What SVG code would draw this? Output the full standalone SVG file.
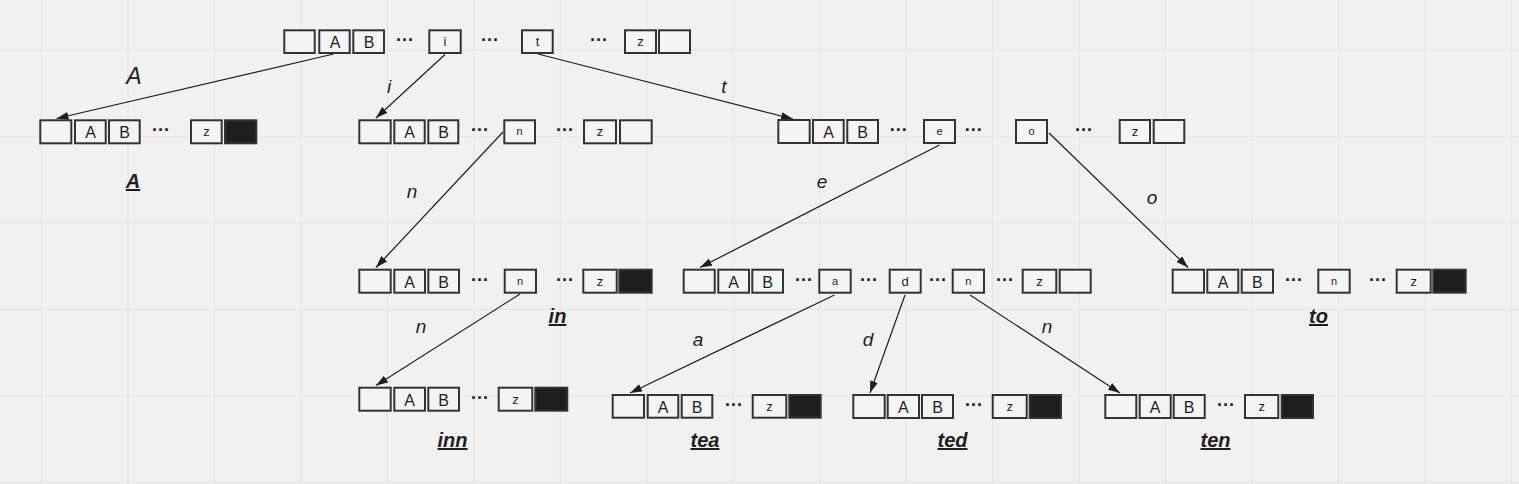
<svg xmlns="http://www.w3.org/2000/svg" width="1519" height="484" viewBox="0 0 1519 484">
<defs>
<style>
.c{fill:#f4f4f4;stroke:#333;stroke-width:2}
.k{fill:#1e1e1e;stroke:#333;stroke-width:2}
.t{font-family:"Liberation Sans",Arial,sans-serif;fill:#1e1e1e;text-anchor:middle}
.L{font-size:16px}
.s{font-size:13px}
.x{font-size:11px}
.d{font-family:"Liberation Sans",Arial,sans-serif;fill:#1e1e1e;text-anchor:middle;font-size:18px;font-weight:bold}
.e{font-family:"Liberation Sans",Arial,sans-serif;fill:#1e1e1e;text-anchor:middle;font-size:19px;font-style:italic}
.w{font-family:"Liberation Sans",Arial,sans-serif;fill:#1e1e1e;text-anchor:middle;font-size:20px;font-weight:bold;font-style:italic;text-decoration:underline}
.g{stroke:#e3e3e3;stroke-width:1}
.a{stroke:#1e1e1e;stroke-width:1.2;fill:none;marker-end:url(#ah)}
</style>
<marker id="ah" markerUnits="userSpaceOnUse" markerWidth="14" markerHeight="10" refX="12" refY="4" orient="auto">
<path d="M0,0 L12,4 L0,8 z" fill="#1e1e1e"/>
</marker>
</defs>
<rect width="1519" height="484" fill="#f1f1f1"/>
<g id="grid">
<path class="g" d="M41.5,0V484M128,0V484M214.4,0V484M300.9,0V484M387.4,0V484M473.9,0V484M560.3,0V484M646.8,0V484M733.3,0V484M819.7,0V484M906.2,0V484M992.7,0V484M1079.1,0V484M1165.6,0V484M1252.1,0V484M1338.6,0V484M1425,0V484M1511.5,0V484M0,50H1519M0,136.5H1519M0,223H1519M0,309.4H1519M0,395.9H1519M0,482.3H1519"/>
</g>
<g id="connectors">
<path class="a" d="M333.5,54 L56.5,118.5"/>
<path class="a" d="M445,54.5 L376,118"/>
<path class="a" d="M538,54 L793,119"/>
<path class="a" d="M503,132 L376,267.5"/>
<path class="a" d="M939.5,145 L700,267.5"/>
<path class="a" d="M1049,133 L1188,267.5"/>
<path class="a" d="M520,294 L376,385.5"/>
<path class="a" d="M834.5,295 L630,393"/>
<path class="a" d="M905,295 L870,393"/>
<path class="a" d="M970,295 L1120,393"/>
<text class="e" x="134" y="84" style="font-size:23px">A</text>
<text class="e" x="389" y="93">i</text>
<text class="e" x="724" y="93">t</text>
<text class="e" x="412" y="198">n</text>
<text class="e" x="822" y="188">e</text>
<text class="e" x="1152" y="204">o</text>
<text class="e" x="421" y="333">n</text>
<text class="e" x="698" y="346">a</text>
<text class="e" x="868" y="346">d</text>
<text class="e" x="1047" y="333">n</text>
</g>
<g id="root">
<rect class="c" x="284.3" y="30.3" width="30.4" height="22.7"/>
<rect class="c" x="319.3" y="30.3" width="30.4" height="22.7"/>
<rect class="c" x="353.3" y="30.3" width="30.7" height="22.7"/>
<rect class="c" x="429.3" y="30.3" width="31.4" height="22.7"/>
<rect class="c" x="522" y="30.3" width="30.7" height="22.7"/>
<rect class="c" x="625" y="30.3" width="31" height="22.7"/>
<rect class="c" x="659" y="30.3" width="31" height="22.7"/>
<text class="t L" x="335" y="48">A</text>
<text class="t L" x="369" y="48">B</text>
<text class="t s" x="445" y="46">i</text>
<text class="t s" x="537.5" y="46">t</text>
<text class="t s" x="640.5" y="46">z</text>
<text class="d" x="405" y="46">···</text>
<text class="d" x="490" y="46">···</text>
<text class="d" x="599" y="46">···</text>
</g>
<g id="node-A">
<rect class="c" x="40.3" y="120.3" width="31" height="23"/>
<rect class="c" x="75" y="120.3" width="30.7" height="23"/>
<rect class="c" x="109" y="120.3" width="30.7" height="23"/>
<rect class="c" x="191" y="120.3" width="30.7" height="23"/>
<rect class="k" x="225" y="120.3" width="31.3" height="23"/>
<text class="t L" x="90.5" y="138">A</text>
<text class="t L" x="124.5" y="138">B</text>
<text class="t s" x="206.5" y="136">z</text>
<text class="d" x="161" y="136">···</text>
<text class="w" x="133" y="188">A</text>
</g>
<g id="node-i">
<rect class="c" x="359.3" y="120.3" width="31.4" height="23"/>
<rect class="c" x="394.3" y="120.3" width="30.4" height="23"/>
<rect class="c" x="428.3" y="120.3" width="30" height="23"/>
<rect class="c" x="504.3" y="120.3" width="30.7" height="23"/>
<rect class="c" x="584" y="120.3" width="32" height="23"/>
<rect class="c" x="620" y="120.3" width="31.7" height="23"/>
<text class="t L" x="409.5" y="138">A</text>
<text class="t L" x="443.5" y="138">B</text>
<text class="t x" x="519.5" y="135">n</text>
<text class="t s" x="600" y="136">z</text>
<text class="d" x="480" y="136">···</text>
<text class="d" x="565" y="136">···</text>
</g>
<g id="node-t">
<rect class="c" x="778.3" y="120" width="31.4" height="23"/>
<rect class="c" x="813" y="120" width="30.7" height="23"/>
<rect class="c" x="847.3" y="120" width="30.7" height="23"/>
<rect class="c" x="924" y="120" width="31" height="23"/>
<rect class="c" x="1016" y="120" width="31" height="23"/>
<rect class="c" x="1119.7" y="120" width="30.3" height="23"/>
<rect class="c" x="1153.7" y="120" width="30.6" height="23"/>
<text class="t L" x="828.5" y="138">A</text>
<text class="t L" x="862.5" y="138">B</text>
<text class="t x" x="939.5" y="135">e</text>
<text class="t x" x="1031.5" y="135">o</text>
<text class="t s" x="1135" y="136">z</text>
<text class="d" x="898.7" y="136">···</text>
<text class="d" x="973.7" y="136">···</text>
<text class="d" x="1084" y="136">···</text>
</g>
<g id="node-in">
<rect class="c" x="359.3" y="269.7" width="31.4" height="23"/>
<rect class="c" x="394.3" y="269.7" width="30.7" height="23"/>
<rect class="c" x="428.3" y="269.7" width="30.7" height="23"/>
<rect class="c" x="504.7" y="269.7" width="31.3" height="23"/>
<rect class="c" x="583.3" y="269.7" width="33.4" height="23"/>
<rect class="k" x="619.3" y="269.7" width="32.4" height="23"/>
<text class="t L" x="409.5" y="287.5">A</text>
<text class="t L" x="443.5" y="287.5">B</text>
<text class="t x" x="520" y="284.5">n</text>
<text class="t s" x="600" y="285.5">z</text>
<text class="d" x="480" y="285.5">···</text>
<text class="d" x="565" y="285.5">···</text>
<text class="w" x="557.5" y="323">in</text>
</g>
<g id="node-te">
<rect class="c" x="683.7" y="269.7" width="31" height="23"/>
<rect class="c" x="718.3" y="269.7" width="30.7" height="23"/>
<rect class="c" x="752.3" y="269.7" width="30.7" height="23"/>
<rect class="c" x="819.3" y="269.7" width="31.4" height="23"/>
<rect class="c" x="889.7" y="269.7" width="31" height="23"/>
<rect class="c" x="952.7" y="269.7" width="31.3" height="23"/>
<rect class="c" x="1022.7" y="269.7" width="33.6" height="23"/>
<rect class="c" x="1059.7" y="269.7" width="31" height="23"/>
<text class="t L" x="733.5" y="287.5">A</text>
<text class="t L" x="767.5" y="287.5">B</text>
<text class="t x" x="835" y="284.5">a</text>
<text class="t s" x="905.2" y="285.5">d</text>
<text class="t x" x="968.3" y="284.5">n</text>
<text class="t s" x="1039.5" y="285.5">z</text>
<text class="d" x="804" y="285.5">···</text>
<text class="d" x="869" y="285.5">···</text>
<text class="d" x="938" y="285.5">···</text>
<text class="d" x="1005" y="285.5">···</text>
</g>
<g id="node-to">
<rect class="c" x="1172.7" y="269.7" width="31.3" height="23"/>
<rect class="c" x="1207.3" y="269.7" width="31" height="23"/>
<rect class="c" x="1241.7" y="269.7" width="31.3" height="23"/>
<rect class="c" x="1318.3" y="269.7" width="31.4" height="23"/>
<rect class="c" x="1396.7" y="269.7" width="34" height="23"/>
<rect class="k" x="1433.3" y="269.7" width="32.4" height="23"/>
<text class="t L" x="1223" y="287.5">A</text>
<text class="t L" x="1257.3" y="287.5">B</text>
<text class="t x" x="1334" y="284.5">n</text>
<text class="t s" x="1413.7" y="285.5">z</text>
<text class="d" x="1294" y="285.5">···</text>
<text class="d" x="1378" y="285.5">···</text>
<text class="w" x="1318.5" y="323">to</text>
</g>
<g id="node-inn">
<rect class="c" x="359.3" y="387.7" width="31.4" height="23"/>
<rect class="c" x="394.3" y="387.7" width="30.7" height="23"/>
<rect class="c" x="428.3" y="387.7" width="30.7" height="23"/>
<rect class="c" x="498.7" y="387.7" width="33.6" height="23"/>
<rect class="k" x="535.3" y="387.7" width="32" height="23"/>
<text class="t L" x="409.5" y="405.5">A</text>
<text class="t L" x="443.5" y="405.5">B</text>
<text class="t s" x="515.5" y="403.5">z</text>
<text class="d" x="480" y="403.5">···</text>
<text class="w" x="452.5" y="447">inn</text>
</g>
<g id="node-tea">
<rect class="c" x="612.7" y="395" width="31.3" height="22.7"/>
<rect class="c" x="647.7" y="395" width="30.6" height="22.7"/>
<rect class="c" x="681.7" y="395" width="30.6" height="22.7"/>
<rect class="c" x="752.7" y="395" width="33.6" height="22.7"/>
<rect class="k" x="789.3" y="395" width="31.4" height="22.7"/>
<text class="t L" x="663" y="412.5">A</text>
<text class="t L" x="697" y="412.5">B</text>
<text class="t s" x="769.5" y="410.5">z</text>
<text class="d" x="734" y="410.5">···</text>
<text class="w" x="705" y="447">tea</text>
</g>
<g id="node-ted">
<rect class="c" x="853.3" y="395" width="31.4" height="23"/>
<rect class="c" x="887.7" y="395" width="31.3" height="23"/>
<rect class="c" x="922" y="395" width="31" height="23"/>
<rect class="c" x="992.7" y="395" width="34" height="23"/>
<rect class="k" x="1029.7" y="395" width="31.3" height="23"/>
<text class="t L" x="903.3" y="412.5">A</text>
<text class="t L" x="937.5" y="412.5">B</text>
<text class="t s" x="1009.7" y="410.5">z</text>
<text class="d" x="974" y="410.5">···</text>
<text class="w" x="952.5" y="447">ted</text>
</g>
<g id="node-ten">
<rect class="c" x="1105.3" y="395" width="31" height="23"/>
<rect class="c" x="1139.7" y="395" width="31" height="23"/>
<rect class="c" x="1173.7" y="395" width="31" height="23"/>
<rect class="c" x="1245" y="395" width="33.3" height="23"/>
<rect class="k" x="1281.7" y="395" width="31.3" height="23"/>
<text class="t L" x="1155" y="412.5">A</text>
<text class="t L" x="1189" y="412.5">B</text>
<text class="t s" x="1261.7" y="410.5">z</text>
<text class="d" x="1226" y="410.5">···</text>
<text class="w" x="1215.5" y="447">ten</text>
</g>
</svg>
